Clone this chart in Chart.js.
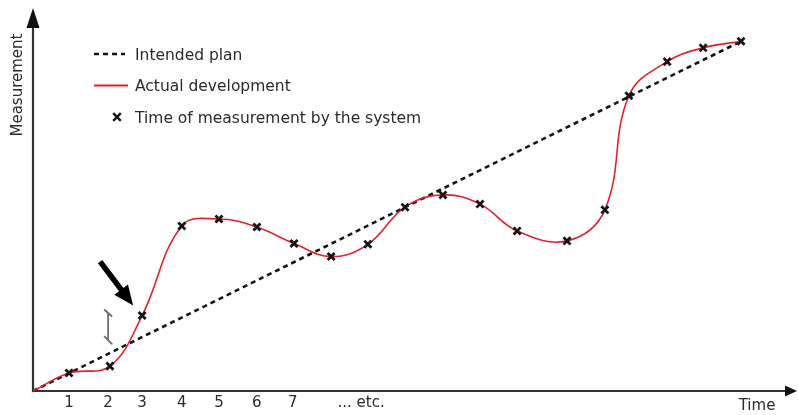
<!DOCTYPE html>
<html>
<head>
<meta charset="utf-8">
<script src="https://cdn.jsdelivr.net/npm/chart.js@4.4.1/dist/chart.umd.min.js"></script>
<style>
  html, body { margin: 0; padding: 0; background: #ffffff; }
  #wrap { width: 798px; height: 415px; }
  canvas { display: block; }
</style>
</head>
<body>
<div id="wrap"><canvas id="c" width="798" height="415"></canvas></div>
<script>
// ---- Data ----
const seriesLabels = ['Intended plan', 'Actual development', 'Time of measurement by the system'];

// time of each measurement (x) and measured value (y)
const measureTimes  = [0.96, 2.05, 2.91, 3.97, 4.96, 5.97, 6.96, 7.95, 8.93, 9.92, 10.93, 11.92, 12.91, 14.24, 15.25, 15.89, 16.91, 17.87, 18.88];
const measureValues = [4.7, 6.5, 19.7, 43.1, 44.9, 42.8, 38.5, 35.1, 38.3, 48.0, 51.2, 48.8, 41.8, 39.2, 47.3, 77.1, 86.0, 89.6, 91.3];

// start of development (origin)
const startTime = 0;
const startValue = 0;

// intended plan: straight line from start to end
const planTimes  = [0, 18.88];
const planValues = [0, 91.3];

// x-axis tick positions and labels
const tickPositions = [0.96, 2.0, 2.91, 3.97, 4.96, 5.97, 6.93, 8.75];
const tickLabels    = ['1', '2', '3', '4', '5', '6', '7', '... etc.'];

const axisTitleX = 'Time';
const axisTitleY = 'Measurement';

// ---- Build datasets ----
const planData = planTimes.map((t, i) => ({ x: t, y: planValues[i] }));
const actualData = [{ x: startTime, y: startValue }].concat(
  measureTimes.map((t, i) => ({ x: t, y: measureValues[i] })));
const measureData = measureTimes.map((t, i) => ({ x: t, y: measureValues[i] }));

const RED = 'rgb(228,32,44)';
const INK = '#151515';
const TEXT = '#2b2b2b';
const FONT = '"DejaVu Sans", Verdana, sans-serif';

function drawCross(ctx, x, y, r, w, color) {
  ctx.save();
  ctx.strokeStyle = color;
  ctx.lineWidth = w;
  ctx.beginPath();
  ctx.moveTo(x - r, y - r); ctx.lineTo(x + r, y + r);
  ctx.moveTo(x + r, y - r); ctx.lineTo(x - r, y + r);
  ctx.stroke();
  ctx.restore();
}

const decorPlugin = {
  id: 'decor',
  beforeDatasetsDraw(chart) {
    const ctx = chart.ctx;
    const xs = chart.scales.x, ys = chart.scales.y;
    const x0 = xs.getPixelForValue(0), y0 = ys.getPixelForValue(0);
    const yTop = ys.top, xRight = chart.width - 1;
    ctx.save();
    ctx.strokeStyle = '#333';
    ctx.fillStyle = '#111';
    ctx.lineWidth = 2.2;
    // y axis with arrow
    ctx.beginPath();
    ctx.moveTo(x0, y0 + 1);
    ctx.lineTo(x0, yTop + 18);
    ctx.stroke();
    ctx.beginPath();
    ctx.moveTo(x0, yTop);
    ctx.lineTo(x0 - 6.5, yTop + 20);
    ctx.lineTo(x0 + 6.5, yTop + 20);
    ctx.closePath();
    ctx.fill();
    // x axis with arrow
    ctx.beginPath();
    ctx.moveTo(x0 - 1, y0);
    ctx.lineTo(xRight - 10, y0);
    ctx.stroke();
    ctx.beginPath();
    ctx.moveTo(xRight, y0);
    ctx.lineTo(xRight - 12, y0 - 5.5);
    ctx.lineTo(xRight - 12, y0 + 5.5);
    ctx.closePath();
    ctx.fill();

    // axis titles
    ctx.fillStyle = TEXT;
    ctx.font = '15px ' + FONT;
    ctx.textAlign = 'center';
    ctx.textBaseline = 'middle';
    ctx.fillText(axisTitleX, 757, 406);
    ctx.save();
    ctx.translate(18, 85);
    ctx.rotate(-Math.PI / 2);
    ctx.fillText(axisTitleY, 0, 0);
    ctx.restore();

    // annotation: bracket showing deviation at measurement 3
    const p3x = xs.getPixelForValue(measureTimes[2]);
    const p3y = ys.getPixelForValue(measureValues[2]);
    const planAt3 = ys.getPixelForValue(planValues[1] * measureTimes[2] / planTimes[1]);
    const bx = p3x - 34;
    const bt = p3y - 6, bb = planAt3 + 8;
    ctx.strokeStyle = '#6e6e6e';
    ctx.lineWidth = 1.8;
    ctx.beginPath();
    ctx.moveTo(bx - 4, bt); ctx.lineTo(bx + 4, bt + 7);
    ctx.moveTo(bx, bt + 3); ctx.lineTo(bx, bb - 4);
    ctx.moveTo(bx - 4, bb - 9); ctx.lineTo(bx + 4, bb - 1);
    ctx.stroke();

    // annotation: big arrow pointing at measurement 3
    const tipX = p3x - 9, tipY = p3y - 10;
    const sx = tipX - 33, sy = tipY - 44;
    const len = Math.hypot(tipX - sx, tipY - sy);
    const ux = (tipX - sx) / len, uy = (tipY - sy) / len;
    const hl = 20, hw = 8.5;
    const bcx = tipX - ux * hl, bcy = tipY - uy * hl;
    ctx.strokeStyle = '#000';
    ctx.fillStyle = '#000';
    ctx.lineWidth = 5.5;
    ctx.lineCap = 'butt';
    ctx.beginPath();
    ctx.moveTo(sx, sy);
    ctx.lineTo(bcx + ux * 2, bcy + uy * 2);
    ctx.stroke();
    ctx.beginPath();
    ctx.moveTo(tipX, tipY);
    ctx.lineTo(bcx - uy * hw, bcy + ux * hw);
    ctx.lineTo(bcx + uy * hw, bcy - ux * hw);
    ctx.closePath();
    ctx.fill();
    ctx.restore();
  },
  afterDraw(chart) {
    // legend
    const ctx = chart.ctx;
    const ds = chart.data.datasets;
    ctx.save();
    ctx.font = '15.5px ' + FONT;
    ctx.fillStyle = TEXT;
    ctx.textAlign = 'left';
    ctx.textBaseline = 'alphabetic';
    const rows = [54, 85.5, 117];
    const textX = 135;
    // dashed sample
    ctx.strokeStyle = ds[0].borderColor;
    ctx.lineWidth = ds[0].borderWidth;
    ctx.setLineDash(ds[0].borderDash);
    ctx.beginPath();
    ctx.moveTo(94, rows[0]); ctx.lineTo(125, rows[0]);
    ctx.stroke();
    ctx.setLineDash([]);
    // red sample
    ctx.strokeStyle = ds[1].borderColor;
    ctx.lineWidth = 2;
    ctx.beginPath();
    ctx.moveTo(94, rows[1]); ctx.lineTo(128, rows[1]);
    ctx.stroke();
    // cross sample
    drawCross(ctx, 117, rows[2], 3.8, 2.4, ds[2].borderColor);
    for (let i = 0; i < 3; i++) {
      ctx.fillText(ds[i].label, textX, rows[i] + 5.8);
    }
    ctx.restore();
  }
};

const chart = new Chart(document.getElementById('c'), {
  type: 'line',
  data: {
    datasets: [
      {
        label: seriesLabels[0],
        data: planData,
        borderColor: INK,
        borderWidth: 2.6,
        borderDash: [5, 4],
        pointRadius: 0,
        tension: 0,
        order: 3
      },
      {
        label: seriesLabels[1],
        data: actualData,
        borderColor: RED,
        borderWidth: 1.6,
        pointRadius: 0,
        tension: 0.4,
        order: 2
      },
      {
        label: seriesLabels[2],
        data: measureData,
        showLine: false,
        pointStyle: 'crossRot',
        pointRadius: 5,
        pointBorderWidth: 2.8,
        borderColor: INK,
        backgroundColor: INK,
        order: 1
      }
    ]
  },
  options: {
    responsive: false,
    animation: false,
    devicePixelRatio: 1,
    layout: { padding: { left: 33, top: 8, right: 15, bottom: 0 } },
    plugins: {
      legend: { display: false },
      tooltip: { enabled: false }
    },
    scales: {
      x: {
        type: 'linear',
        min: 0,
        max: 20,
        grid: { display: false, drawTicks: false },
        border: { display: false },
        afterBuildTicks: (scale) => {
          scale.ticks = tickPositions.map(v => ({ value: v }));
        },
        ticks: {
          autoSkip: false,
          maxRotation: 0,
          padding: 3,
          color: TEXT,
          font: { family: FONT, size: 15 },
          callback: (value, index) => tickLabels[index]
        }
      },
      y: {
        type: 'linear',
        min: 0,
        max: 100,
        display: false
      }
    }
  },
  plugins: [decorPlugin]
});
</script>
</body>
</html>
